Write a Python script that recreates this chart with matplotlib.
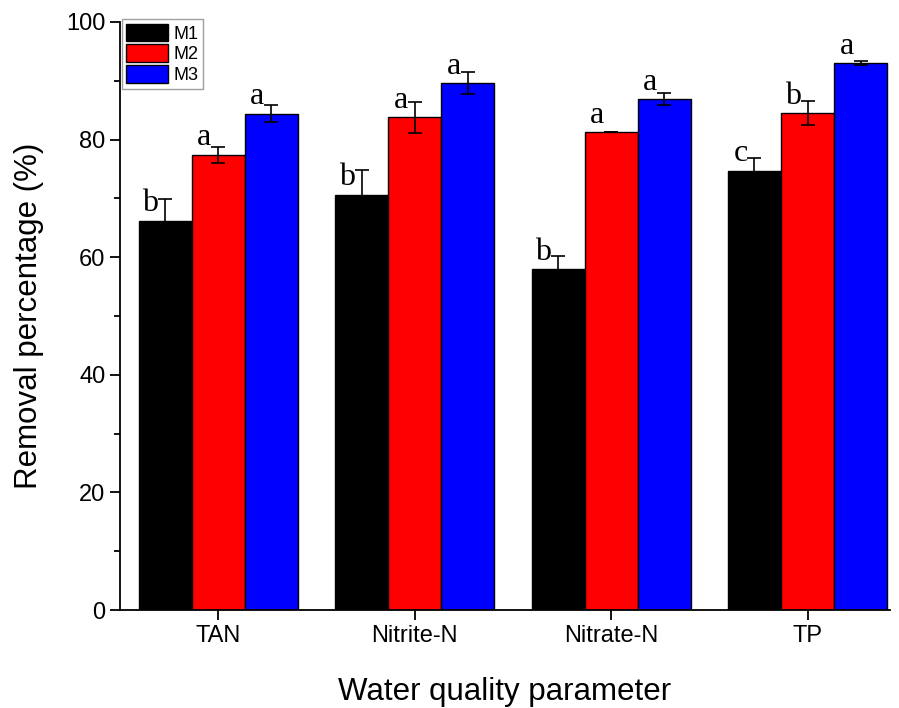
import numpy as np
import matplotlib
matplotlib.use("Agg")
import matplotlib.pyplot as plt
from matplotlib.ticker import MultipleLocator

# values
params = ["TAN", "Nitrite-N", "Nitrate-N", "TP"]
series = ["M1", "M2", "M3"]
m1 = [66.2, 70.6, 58.0, 74.7]
m2 = [77.4, 83.8, 81.3, 84.5]
m3 = [84.4, 89.6, 86.9, 93.0]
m1_err = [3.7, 4.3, 2.2, 2.2]
m2_err = [1.4, 2.6, 0.0, 2.0]
m3_err = [1.4, 1.9, 1.1, 0.4]
m1_sig = ["b", "b", "b", "c"]
m2_sig = ["a", "a", "a", "b"]
m3_sig = ["a", "a", "a", "a"]
colors = ["#000000", "#ff0000", "#0000ff"]

plt.rcParams["font.family"] = ["Liberation Sans", "DejaVu Sans"]

fig = plt.figure(figsize=(8.99, 7.08), dpi=100)
ax = fig.add_axes([0.1335, 0.1384, 0.8565, 0.8306])

x = np.arange(len(params))
w = 0.27
vals = [m1, m2, m3]
errs = [m1_err, m2_err, m3_err]
sigs = [m1_sig, m2_sig, m3_sig]

for i in range(3):
    xs = x + (i - 1) * w
    ax.bar(xs, vals[i], w, color=colors[i], edgecolor="black", linewidth=1,
           label=series[i], zorder=2)
    ax.errorbar(xs, vals[i], yerr=errs[i], fmt="none", ecolor="black",
                elinewidth=1.2, capsize=5, capthick=1.2, zorder=3)
    for xi, v, s in zip(xs, vals[i], sigs[i]):
        ax.text(xi - 0.035, v + 0.4, s, ha="right", va="bottom",
                fontsize=23, family="Liberation Serif", zorder=4)

ax.set_xlim(-0.5, 3.42)
ax.set_ylim(0, 100)
ax.set_xticks(x)
ax.set_xticklabels(params)
ax.yaxis.set_major_locator(MultipleLocator(20))
ax.yaxis.set_minor_locator(MultipleLocator(10))
ax.tick_params(axis="both", which="major", labelsize=17, length=7, width=1.3,
               direction="out")
ax.tick_params(axis="y", which="minor", length=4, width=1.3, direction="out")
for s in ["top", "right"]:
    ax.spines[s].set_visible(False)
for s in ["left", "bottom"]:
    ax.spines[s].set_linewidth(1.3)

ax.set_ylabel("Removal percentage (%)", fontsize=22.5, labelpad=16)
ax.set_xlabel("Water quality parameter", fontsize=22.5, labelpad=22)

leg = ax.legend(loc="upper left", bbox_to_anchor=(0.002, 1.005), fontsize=13,
                handlelength=2.3, handleheight=1.15, handletextpad=0.3,
                labelspacing=0.1, borderpad=0.25, borderaxespad=0.0,
                fancybox=False, frameon=True)
leg.get_frame().set_edgecolor("#888888")
leg.get_frame().set_linewidth(1)

fig.savefig("out.png", dpi=100)
